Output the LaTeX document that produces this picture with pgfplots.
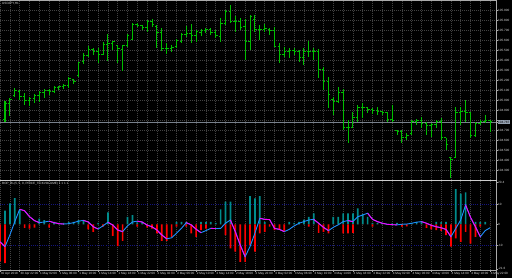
\documentclass[border=0pt]{standalone}
\usepackage{pgfplots}
\pgfplotsset{compat=1.18}
\usepackage{pgfplotstable}
\usepackage{fontspec}
\setmainfont{Liberation Sans}
\definecolor{barcol}{RGB}{0,190,0}
\definecolor{gridc}{RGB}{66,66,66}
\definecolor{hpos}{RGB}{0,140,140}
\definecolor{hneg}{RGB}{255,0,0}
\definecolor{lblue}{RGB}{30,144,255}
\definecolor{lmag}{RGB}{255,0,255}
\definecolor{lvl}{RGB}{20,20,125}
\definecolor{framec}{RGB}{170,170,170}
\definecolor{txtc}{RGB}{220,220,220}
\definecolor{pricec}{RGB}{120,128,140}
\definecolor{pricebox}{RGB}{150,162,178}

\pgfdeclareplotmark{ohlcopen}{\pgfpathmoveto{\pgfqpoint{-1.9pt}{0pt}}\pgfpathlineto{\pgfqpoint{0.4pt}{0pt}}\pgfusepathqstroke}
\pgfdeclareplotmark{ohlcclose}{\pgfpathmoveto{\pgfqpoint{-0.4pt}{0pt}}\pgfpathlineto{\pgfqpoint{1.9pt}{0pt}}\pgfusepathqstroke}

\pgfplotstableread{
i h l o c
0 104.997 104.787 104.807 104.967
1 105.027 104.847 104.967 105.007
2 105.127 105.037 105.047 105.097
3 105.107 105.007 105.087 105.037
4 105.077 104.957 105.037 104.997
5 105.037 104.947 104.997 105.017
6 105.067 104.977 105.017 105.047
7 105.097 104.987 105.047 105.077
8 105.117 105.027 105.077 105.097
9 105.117 105.057 105.097 105.087
10 105.147 105.077 105.087 105.127
11 105.147 105.107 105.127 105.137
12 105.167 105.117 105.137 105.147
13 105.237 105.127 105.147 105.217
14 105.217 105.167 105.207 105.187
15 105.387 105.237 105.247 105.377
16 105.477 105.367 105.387 105.447
17 105.547 105.437 105.447 105.507
18 105.527 105.457 105.507 105.487
19 105.527 105.377 105.487 105.457
20 105.587 105.457 105.457 105.557
21 105.667 105.397 105.557 105.567
22 105.597 105.507 105.567 105.587
23 105.547 105.377 105.547 105.517
24 105.557 105.297 105.507 105.547
25 105.667 105.537 105.547 105.647
26 105.777 105.607 105.607 105.757
27 105.777 105.737 105.757 105.747
28 105.757 105.707 105.747 105.727
29 105.807 105.687 105.727 105.787
30 105.817 105.737 105.787 105.757
31 105.757 105.527 105.737 105.677
32 105.727 105.497 105.677 105.517
33 105.577 105.467 105.517 105.517
34 105.557 105.487 105.517 105.527
35 105.617 105.527 105.537 105.597
36 105.677 105.577 105.587 105.657
37 105.747 105.637 105.657 105.667
38 105.767 105.577 105.667 105.647
39 105.707 105.587 105.647 105.687
40 105.717 105.647 105.677 105.697
41 105.727 105.677 105.697 105.707
42 105.727 105.657 105.707 105.677
43 105.707 105.627 105.677 105.647
44 105.827 105.587 105.637 105.767
45 105.907 105.757 105.767 105.887
46 105.957 105.777 105.887 105.787
47 105.847 105.687 105.787 105.787
48 105.827 105.707 105.787 105.727
49 105.817 105.407 105.737 105.587
50 105.857 105.507 105.587 105.837
51 105.857 105.687 105.807 105.707
52 105.757 105.607 105.707 105.707
53 105.767 105.687 105.707 105.717
54 105.727 105.657 105.707 105.697
55 105.737 105.537 105.697 105.537
56 105.577 105.377 105.537 105.457
57 105.537 105.437 105.457 105.487
58 105.527 105.427 105.487 105.497
59 105.527 105.457 105.497 105.487
60 105.507 105.387 105.487 105.427
61 105.527 105.357 105.427 105.487
62 105.597 105.437 105.487 105.487
63 105.527 105.407 105.487 105.487
64 105.517 105.227 105.487 105.307
65 105.337 105.107 105.307 105.187
66 105.237 104.927 105.187 105.057
67 105.037 104.857 105.007 104.987
68 105.137 104.977 104.987 105.077
69 105.117 104.707 105.077 104.727
70 104.807 104.577 104.727 104.727
71 104.887 104.727 104.727 104.827
72 104.957 104.787 104.827 104.927
73 104.977 104.827 104.927 104.927
74 104.937 104.877 104.927 104.907
75 104.927 104.867 104.907 104.897
76 104.937 104.857 104.897 104.887
77 104.887 104.857 104.887 104.877
78 104.887 104.787 104.877 104.807
79 104.957 104.787 104.807 104.797
80 104.707 104.657 104.697 104.687
81 104.707 104.577 104.687 104.627
82 104.677 104.607 104.627 104.647
83 104.807 104.657 104.667 104.787
84 104.817 104.757 104.787 104.797
85 104.837 104.727 104.797 104.767
86 104.787 104.657 104.767 104.747
87 104.777 104.637 104.747 104.757
88 104.807 104.727 104.757 104.787
89 104.827 104.607 104.787 104.627
90 104.627 104.507 104.627 104.557
91 104.437 104.227 104.427 104.407
92 104.937 104.427 104.427 104.877
93 104.937 104.757 104.877 104.887
94 105.007 104.787 104.887 104.877
95 104.887 104.627 104.877 104.647
96 104.787 104.637 104.647 104.767
97 104.807 104.757 104.767 104.787
98 104.857 104.777 104.787 104.797
99 104.807 104.687 104.797 104.787
}\ohlc

\pgfplotstableread{
i v m p n
-1 -8.5 -8.5 0 -18
0 -10.8 -10.8 6.7 -18.9
1 -5.1 nan 10.3 0
2 1.4 nan 12.8 0
3 7.4 7.4 7.0 0
4 6.7 6.7 0 -1.6
5 3.8 3.8 0 -2.0
6 1.9 1.9 0 -1.5
7 0.9 0.9 2.9 0
8 1.2 nan 2.1 0
9 1.6 1.6 0 -1.5
10 0.9 0.9 1.3 0
11 0.4 0.4 0.8 0
12 0.2 0.2 0.8 0
13 0.4 nan 1.3 0
14 0.9 nan 1.3 0
15 1.6 nan 2.1 0
16 2.0 2.0 1.8 0
17 1.2 1.2 0 -2.4
18 -1.1 -1.1 0 -3.6
19 -2.2 -2.2 0.8 0
20 -0.7 nan 0 -1.1
21 1.1 1.1 5.9 0
22 -0.3 -0.3 0 -5.6
23 -2.7 -2.7 0 -10.5
24 -3.5 -3.5 0 -8.0
25 -0.7 nan 3.7 0
26 1.2 nan 4.6 0
27 1.6 1.6 1.0 -1.1
28 1.2 1.2 1.3 0
29 -0.3 -0.3 0 -1.5
30 -1.1 -1.1 0 -2.0
31 -2.7 -2.7 0 -4.4
32 -5.1 -5.1 0 -8.0
33 -7.0 -7.0 0 -8.0
34 -6.5 nan 0 -6.0
35 -4.3 nan 1.3 -1.1
36 -1.9 nan 1.3 0
37 0.9 0.9 1.3 -1.1
38 -0.2 -0.2 0 -4.4
39 -2.3 -2.3 0 -6.0
40 -4.0 -4.0 1.3 -2.7
41 -3.0 nan 1.3 -2.0
42 -1.9 -1.9 1.3 0
43 -2.0 -2.0 0.8 0
44 -1.9 nan 7.4 0
45 0.6 nan 11.1 -5.2
46 2.2 2.2 11.1 -11.7
47 -3.5 -3.5 0 -13.3
48 -10.0 -10.0 0 -18.2
49 -15.7 -15.7 0 -18.2
50 -10.8 nan 13.8 -10.1
51 -4.3 nan 12.7 -13.3
52 3.0 3.0 13.8 -4.4
53 2.5 2.5 1.3 -3.6
54 2.4 2.4 0 -1.1
55 -1.9 -1.9 0 -2.7
56 -2.4 -2.4 0 -2.4
57 -3.5 -3.5 0 -3.6
58 -2.4 nan 1.3 0
59 -0.7 nan 0.8 0
60 0.6 nan 1.3 0
61 1.4 nan 2.4 0
62 2.2 nan 3.7 -1.1
63 2.5 2.5 5.4 0
64 0.6 0.6 0 -4.1
65 -1.4 -1.4 0 -3.6
66 -3.0 -3.0 0 -4.4
67 -1.4 nan 3.7 0
68 -0.2 nan 3.7 0
69 1.4 nan 5.4 -4.4
70 1.9 1.9 5.4 -4.4
71 1.4 1.4 5.4 -4.1
72 3.8 nan 7.9 0
73 4.6 nan 5.0 0
74 5.5 5.5 3.7 0
75 2.5 2.5 0.8 -1.1
76 1.4 1.4 0.8 0
77 0.6 0.6 0.8 0
78 0.1 0.1 0 0
79 -0.1 -0.1 0.5 0
80 -0.2 -0.2 0.8 0
81 0.1 nan 0 -1.1
82 0.2 nan 0 -0.9
83 0.6 nan 0.8 0
84 1.1 nan 1.3 0
85 1.4 1.4 1.3 0
86 0.6 0.6 0 -1.6
87 -0.4 -0.4 0 -2.4
88 -1.1 -1.1 1.3 -2.7
89 -1.6 -1.6 1.3 -3.1
90 -2.4 -2.4 1.3 -5.2
91 -6.0 -6.0 0 -10.8
92 -1.9 nan 17.2 -6.8
93 2.2 nan 15.0 -8.5
94 9.5 9.5 15.6 -3.6
95 3.5 3.5 0 -9.3
96 -1.1 -1.1 1.3 -6.0
97 -6.0 -6.0 1.3 -1.1
98 -3.0 nan 1.3 0
99 -1.6 nan 0 0
}\ind

\pgfplotsset{
  mt/.style={
    scale only axis, width=496pt,
    xmin=-1.0204, xmax=100.204,
    axis background/.style={fill=black},
    axis line style={draw=none},
    xtick={-1,3,...,99}, minor xtick={1,5,...,97},
    xmajorgrids, xminorgrids,
    grid style={gridc, dash pattern=on 1pt off 1pt, line width=0.6pt},
    minor tick length=0pt,
    tick style={framec, line width=0.5pt},
    major tick length=2pt,
    tick align=outside,
    ticklabel style={font=\fontsize{3.1}{3.6}\selectfont, text=txtc},
    /pgf/number format/assume math mode=true,
    ytick pos=right, yticklabel pos=right,
    yticklabel style={anchor=west, xshift=-0.6pt, inner sep=0.6pt},
  }
}

\begin{document}
\begin{tikzpicture}[x=1pt,y=1pt]
\fill[black] (0,0) rectangle (512,278);
\useasboundingbox (0,0) rectangle (512,278);

% main price panel
\begin{axis}[mt, at={(0pt,98pt)}, anchor=south west, height=179pt,
  ymin=104.207, ymax=105.997,
  ytick={104.3,104.4,104.5,104.6,104.7,104.8,104.9,105.0,105.1,105.2,105.3,105.4,105.5,105.6,105.7,105.8,105.9},
  yticklabels={104.300,104.400,104.500,104.600,104.700,{},104.900,105.000,105.100,105.200,105.300,105.400,105.500,105.600,105.700,105.800,105.900},
  ymajorgrids,
  xticklabels={}, xtick style={draw=none},
  extra y ticks={104.787}, extra y tick labels={104.787},
  extra y tick style={grid=major, major grid style={solid, pricec, line width=0.7pt},
     yticklabel style={fill=pricebox, text=black}},
]
\addplot[draw=none, mark=none, forget plot,
  error bars/.cd, y dir=minus, y explicit, error mark=none,
  error bar style={draw=barcol, solid, line width=1pt}]
  table[x=i, y=h, y error expr=\thisrow{h}-\thisrow{l}] {\ohlc};
\addplot[only marks, mark=ohlcopen, barcol, mark options={line width=1pt, solid}] table[x=i, y=o] {\ohlc};
\addplot[only marks, mark=ohlcclose, barcol, mark options={line width=1pt, solid}] table[x=i, y=c] {\ohlc};
\end{axis}

% indicator panel
\begin{axis}[mt, at={(0pt,8pt)}, anchor=south west, height=89pt,
  ymin=-22.2, ymax=21.2,
  ytick={-21.6,-10,0,10,20.4},
  yticklabels={-21.6,-10,0,10,20.4},
  xtick pos=bottom,
  xticklabels={30 Apr 2018,30 Apr 22:00,1 May 02:00,1 May 06:00,1 May 10:00,1 May 14:00,1 May 18:00,1 May 22:00,2 May 02:00,2 May 06:00,2 May 10:00,2 May 14:00,2 May 18:00,2 May 22:00,3 May 02:00,3 May 06:00,3 May 10:00,3 May 14:00,3 May 18:00,3 May 22:00,4 May 02:00,4 May 06:00,4 May 10:00,4 May 14:00,4 May 18:00,4 May 22:00},
  xticklabel style={anchor=north west, xshift=0.2pt, yshift=0.6pt, inner sep=0.4pt},
  unbounded coords=jump,
]
\draw[lvl, dash pattern=on 1pt off 1.2pt, line width=0.6pt] (axis cs:-1.0204,10) -- (axis cs:100.204,10);
\draw[lvl, dash pattern=on 1pt off 1.2pt, line width=0.6pt] (axis cs:-1.0204,-10) -- (axis cs:100.204,-10);
\addplot[ybar, bar width=1.7pt, bar shift=0pt, fill=hpos, draw=none] table[x=i, y=p] {\ind};
\addplot[ybar, bar width=1.7pt, bar shift=0pt, fill=hneg, draw=none] table[x=i, y=n] {\ind};
\addplot[lblue, line width=0.9pt, mark=none] table[x=i, y=v] {\ind};
\addplot[lmag, line width=0.9pt, mark=none] table[x=i, y=m] {\ind};
\end{axis}

% frame
\draw[framec, line width=0.9pt] (0,277.6) -- (496.5,277.6);
\draw[framec, line width=0.7pt] (496.5,0) -- (496.5,278);
\draw[white!80!black, line width=1.1pt] (0,97.6) -- (496.5,97.6);
\draw[framec, line width=0.7pt] (0,8) -- (496.5,8);

\node[anchor=north west, inner sep=0pt, text=txtc, font=\fontsize{3.1}{3.6}\selectfont] at (2,276.3) {USDJPY,H1};
\node[anchor=north west, inner sep=0pt, text=txtc, font=\fontsize{3.1}{3.6}\selectfont] at (2,96.2) {BOP\_BL(5, 5, 0, PRICE\_TICKVOLUME) 1 1 1 1};
\end{tikzpicture}
\end{document}
